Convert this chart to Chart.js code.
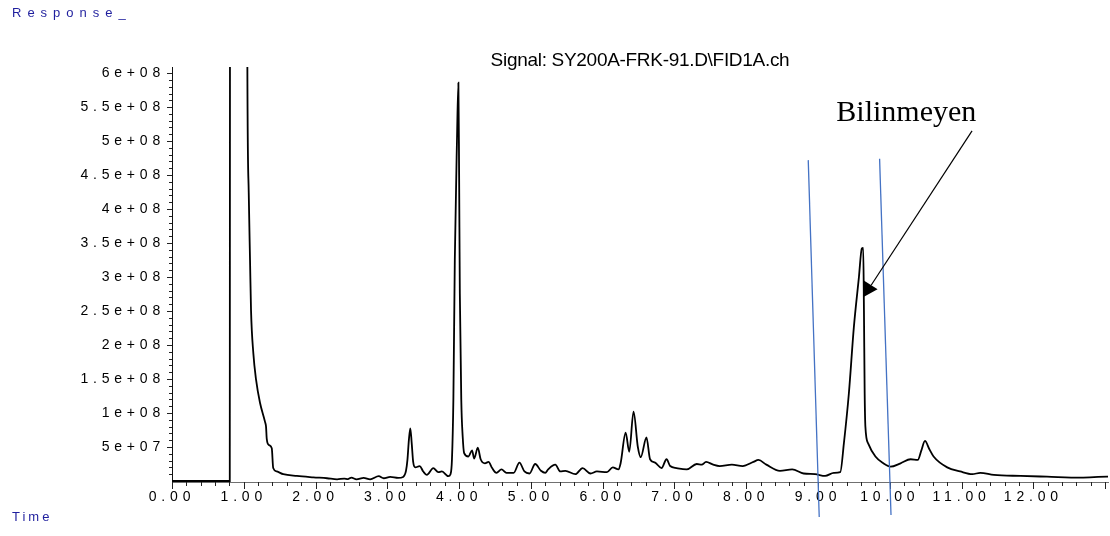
<!DOCTYPE html>
<html>
<head>
<meta charset="utf-8">
<script src="https://cdn.jsdelivr.net/npm/chart.js@4.4.1/dist/chart.umd.min.js"></script>
<style>
  html, body { margin: 0; padding: 0; background: #ffffff; }
  canvas { display: block; }
</style>
</head>
<body>
<canvas id="chrom" width="1110" height="536"></canvas>
<script>
// Retention time (min) of each sampled point of the FID trace
const times = [
  0.00, 0.40, 0.805, 0.81, 1.04, 1.05, 1.069, 1.087, 1.101, 1.133, 1.171, 1.226, 1.296, 1.31, 1.32,
  1.35, 1.39, 1.41, 1.46, 1.55, 1.74, 1.97, 2.16, 2.30, 2.40, 2.45, 2.50, 2.57, 2.67, 2.76,
  2.88, 2.95, 3.04, 3.15, 3.22, 3.26, 3.28, 3.30, 3.32, 3.34, 3.36, 3.39, 3.45, 3.50, 3.55,
  3.64, 3.71, 3.76, 3.85, 3.88, 3.90, 3.92, 3.94, 3.97, 3.99, 4.00, 4.01, 4.03, 4.05, 4.07,
  4.13, 4.18, 4.21, 4.26, 4.30, 4.36, 4.41, 4.46, 4.52, 4.59, 4.66, 4.76, 4.84, 4.91, 4.98,
  5.06, 5.14, 5.20, 5.24, 5.34, 5.41, 5.48, 5.62, 5.72, 5.83, 5.92, 6.06, 6.14, 6.22, 6.25,
  6.32, 6.37, 6.43, 6.49, 6.53, 6.61, 6.66, 6.73, 6.82, 6.89, 6.94, 7.03, 7.17, 7.31, 7.38,
  7.44, 7.54, 7.63, 7.80, 7.95, 8.10, 8.17, 8.28, 8.47, 8.64, 8.80, 8.96, 9.10, 9.22, 9.31,
  9.36, 9.43, 9.50, 9.57, 9.61, 9.63, 9.64, 9.65, 9.66, 9.70, 9.80, 9.91, 10.01, 10.15, 10.29,
  10.39, 10.44, 10.49, 10.55, 10.61, 10.80, 10.98, 11.15, 11.26, 11.45, 11.82, 12.19, 12.66, 13.03, 13.05
];

// Detector response at each time
const responses = [
  0, 0, 0, 12e8, 12e8, 6.1e8, 4.24e8, 3.25e8, 2.51e8, 1.88e8, 1.49e8, 1.15e8, 0.87e8, 0.80e8, 0.62e8,
  0.53e8, 0.48e8, 0.19e8, 0.14e8, 0.10e8, 0.074e8, 0.054e8, 0.040e8, 0.025e8, 0.035e8, 0.028e8, 0.05e8, 0.025e8, 0.045e8, 0.025e8,
  0.07e8, 0.04e8, 0.06e8, 0.045e8, 0.06e8, 0.15e8, 0.31e8, 0.60e8, 0.775e8, 0.55e8, 0.28e8, 0.20e8, 0.22e8, 0.14e8, 0.09e8,
  0.19e8, 0.13e8, 0.14e8, 0.07e8, 0.10e8, 0.31e8, 1.2e8, 3.25e8, 5.0e8, 5.86e8, 4.5e8, 2.76e8, 1.2e8, 0.65e8, 0.41e8,
  0.36e8, 0.45e8, 0.33e8, 0.49e8, 0.32e8, 0.26e8, 0.28e8, 0.19e8, 0.12e8, 0.17e8, 0.12e8, 0.12e8, 0.27e8, 0.14e8, 0.11e8,
  0.25e8, 0.15e8, 0.12e8, 0.17e8, 0.24e8, 0.14e8, 0.15e8, 0.10e8, 0.19e8, 0.11e8, 0.14e8, 0.13e8, 0.20e8, 0.17e8, 0.26e8,
  0.71e8, 0.43e8, 1.02e8, 0.50e8, 0.35e8, 0.64e8, 0.32e8, 0.27e8, 0.19e8, 0.32e8, 0.22e8, 0.19e8, 0.17e8, 0.25e8, 0.24e8,
  0.28e8, 0.24e8, 0.22e8, 0.24e8, 0.22e8, 0.28e8, 0.31e8, 0.24e8, 0.15e8, 0.17e8, 0.11e8, 0.10e8, 0.074e8, 0.12e8, 0.13e8,
  0.55e8, 1.29e8, 2.27e8, 3.00e8, 3.42e8, 3.43e8, 2.5e8, 1.29e8, 0.80e8, 0.55e8, 0.36e8, 0.26e8, 0.21e8, 0.26e8, 0.32e8,
  0.31e8, 0.45e8, 0.59e8, 0.47e8, 0.36e8, 0.20e8, 0.14e8, 0.10e8, 0.12e8, 0.09e8, 0.074e8, 0.063e8, 0.05e8, 0.063e8, 0.063e8
];

// Labelled tick values
const timeTicks = [0, 1, 2, 3, 4, 5, 6, 7, 8, 9, 10, 11, 12];
const responseTicks = [5e7, 1e8, 1.5e8, 2e8, 2.5e8, 3e8, 3.5e8, 4e8, 4.5e8, 5e8, 5.5e8, 6e8];

// Axis ranges and minor tick steps
const timeRange = [0, 13.04];
const responseRange = [-1.5e6, 6.09e8];
const timeMinorStep = 0.2;
const responseMinorStep = 1e7;

// Peak annotation (data units): label, leader line, arrow head
const peakLabel = { text: 'Bilinmeyen', x: 10.23, y: 5.29e8 };
const arrowLine = [11.146, 5.15e8, 9.74, 2.88e8];
const arrowHead = [[9.627, 2.956e8], [9.83, 2.819e8], [9.627, 2.701e8]];

// Integration marker lines (data units): [x1, y1, x2, y2]
const markerLines = [
  [8.864, 4.72e8, 9.017, -0.53e8],
  [9.858, 4.74e8, 10.017, -0.50e8]
];

function expLabel(v) {
  const e = Math.floor(Math.log10(v) + 1e-9);
  const m = +(v / Math.pow(10, e)).toFixed(2);
  return m + 'e+' + String(e).padStart(2, '0');
}

const SANS = '"Liberation Sans", Arial, sans-serif';

const decorations = {
  id: 'decorations',
  beforeDraw(chart) {
    chart.ctx.letterSpacing = '4.8px';
  },
  beforeDatasetsDraw(chart) {
    chart.ctx.letterSpacing = '0px';
  },
  afterDraw(chart) {
    const ctx = chart.ctx;
    const xs = chart.scales.x, ys = chart.scales.y;
    const area = chart.chartArea;
    const X = v => xs.getPixelForValue(v);
    const Y = v => ys.getPixelForValue(v);

    ctx.save();
    ctx.letterSpacing = '0px';

    // tick marks
    ctx.strokeStyle = '#222';
    ctx.lineWidth = 1;
    ctx.beginPath();
    for (let i = 0; i * timeMinorStep <= timeRange[1] + 1e-9; i++) {
      const v = i * timeMinorStep;
      const px = Math.round(X(v)) + 0.5;
      const len = (i % 5 === 0) ? 7 : 4;
      ctx.moveTo(px, area.bottom);
      ctx.lineTo(px, area.bottom + len);
    }
    for (let i = 1; i * responseMinorStep <= responseRange[1]; i++) {
      const v = i * responseMinorStep;
      const py = Math.round(Y(v)) + 0.5;
      const len = (i % 5 === 0) ? 5 : 3;
      ctx.moveTo(area.left, py);
      ctx.lineTo(area.left - len, py);
    }
    ctx.stroke();

    // integration markers
    ctx.strokeStyle = '#4472c4';
    ctx.lineWidth = 1.3;
    markerLines.forEach(s => {
      ctx.beginPath();
      ctx.moveTo(X(s[0]), Y(s[1]));
      ctx.lineTo(X(s[2]), Y(s[3]));
      ctx.stroke();
    });

    // arrow
    ctx.strokeStyle = '#000';
    ctx.lineWidth = 1.2;
    ctx.beginPath();
    ctx.moveTo(X(arrowLine[0]), Y(arrowLine[1]));
    ctx.lineTo(X(arrowLine[2]), Y(arrowLine[3]));
    ctx.stroke();
    ctx.fillStyle = '#000';
    ctx.beginPath();
    arrowHead.forEach((p, i) => {
      if (i === 0) ctx.moveTo(X(p[0]), Y(p[1])); else ctx.lineTo(X(p[0]), Y(p[1]));
    });
    ctx.closePath();
    ctx.fill();

    // peak label
    ctx.font = '30px "Liberation Serif", "Times New Roman", serif';
    ctx.textAlign = 'center';
    ctx.textBaseline = 'alphabetic';
    ctx.fillText(peakLabel.text, X(peakLabel.x), Y(peakLabel.y));

    // signal title
    ctx.font = '19px ' + SANS;
    ctx.letterSpacing = '-0.3px';
    ctx.textBaseline = 'middle';
    ctx.fillText('Signal: SY200A-FRK-91.D\\FID1A.ch', (area.left + area.right) / 2, 61);

    // axis captions
    ctx.fillStyle = '#1f1f9e';
    ctx.font = '13px ' + SANS;
    ctx.textAlign = 'left';
    ctx.letterSpacing = '6px';
    ctx.fillText('Response_', 12, 13);
    ctx.letterSpacing = '3px';
    ctx.fillText('Time', 12, 517);

    ctx.restore();
  }
};

new Chart(document.getElementById('chrom'), {
  type: 'line',
  data: {
    datasets: [{
      data: times.map((t, i) => ({ x: t, y: responses[i] })),
      borderColor: '#000000',
      borderWidth: 1.8,
      pointRadius: 0,
      fill: false,
      cubicInterpolationMode: 'monotone'
    }]
  },
  options: {
    responsive: false,
    animation: false,
    devicePixelRatio: 1,
    events: [],
    layout: { padding: { top: 67, right: 2, left: 0, bottom: 0 } },
    plugins: { legend: { display: false }, title: { display: false }, tooltip: { enabled: false } },
    scales: {
      x: {
        type: 'linear',
        position: 'bottom',
        min: timeRange[0],
        max: timeRange[1],
        afterBuildTicks: s => { s.ticks = timeTicks.map(v => ({ value: v })); },
        afterFit: s => { s.height = 54; },
        grid: { display: false, drawTicks: false },
        border: { display: true, color: '#707070', width: 1 },
        ticks: {
          autoSkip: false,
          maxRotation: 0,
          padding: 7,
          color: '#000',
          font: { family: SANS, size: 14 },
          callback: v => Number(v).toFixed(2)
        }
      },
      y: {
        type: 'linear',
        min: responseRange[0],
        max: responseRange[1],
        afterBuildTicks: s => { s.ticks = responseTicks.map(v => ({ value: v })); },
        afterFit: s => { s.width = 172; },
        grid: { display: false, drawTicks: false },
        border: { display: true, color: '#111', width: 1 },
        ticks: {
          autoSkip: false,
          padding: 7,
          color: '#000',
          font: { family: SANS, size: 14 },
          callback: v => expLabel(v)
        }
      }
    }
  },
  plugins: [decorations]
});
</script>
</body>
</html>
